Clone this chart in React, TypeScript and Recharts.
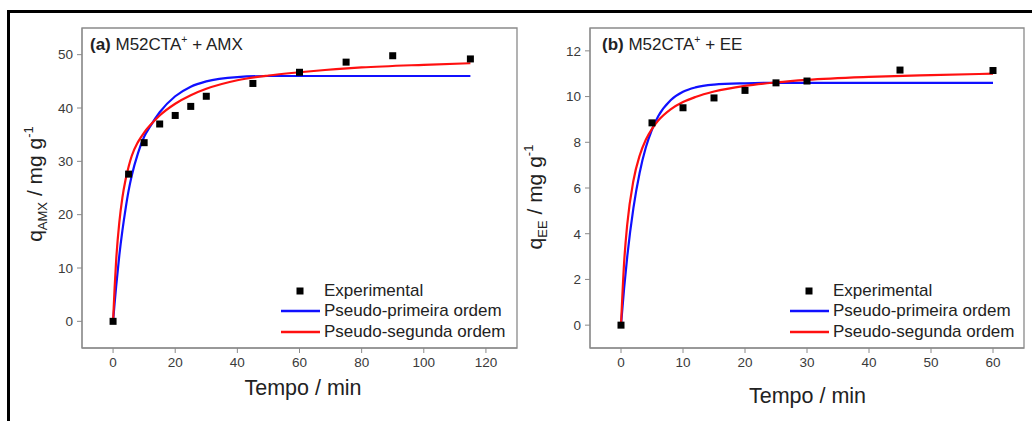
import React from "react";
import {
    ComposedChart,
    Scatter,
    Line,
    XAxis,
    YAxis,
    Legend,
    ReferenceArea,
} from "recharts";

// (a) M52CTA+ + AMX
const timesA = [0, 5, 10, 15, 20, 25, 30, 45, 60, 75, 90, 115];
const expA = [0, 27.6, 33.5, 37.0, 38.6, 40.3, 42.2, 44.6, 46.7, 48.6, 49.8, 49.2];
const fitTimesA = [0, 0.5, 1, 2, 3, 4, 5, 6, 8, 10, 12, 15, 20, 25, 30, 40, 50, 60, 80, 100, 115];
const pfoA = [0, 3.4, 6.6, 12.3, 17.0, 21.0, 24.5, 27.3, 31.5, 34.6, 36.6, 39.2, 42.2, 44.0, 45.0, 45.8, 46.0, 46.0, 46.0, 46.0, 46.0];
const psoA = [0, 6.3, 11.5, 18.5, 23.2, 26.5, 29.0, 31.0, 33.6, 35.4, 36.8, 38.6, 40.8, 42.4, 43.6, 45.2, 46.1, 46.7, 47.6, 48.1, 48.4];
const xTicksA = [0, 20, 40, 60, 80, 100, 120];
const yTicksA = [0, 10, 20, 30, 40, 50];

// (b) M52CTA+ + EE
const timesB = [0, 5, 10, 15, 20, 25, 30, 45, 60];
const expB = [0, 8.85, 9.51, 9.94, 10.27, 10.6, 10.68, 11.16, 11.14];
const fitTimesB = [0, 0.5, 1, 2, 3, 4, 5, 6, 8, 10, 12, 15, 20, 25, 30, 40, 50, 60];
const pfoB = [0, 1.61, 2.98, 5.12, 6.66, 7.77, 8.56, 9.14, 9.84, 10.21, 10.4, 10.52, 10.58, 10.6, 10.6, 10.6, 10.6, 10.6];
const psoB = [0, 2.73, 4.39, 6.32, 7.41, 8.11, 8.59, 8.95, 9.44, 9.76, 9.98, 10.22, 10.47, 10.62, 10.73, 10.86, 10.94, 11.0];
const xTicksB = [0, 10, 20, 30, 40, 50, 60];
const yTicksB = [0, 2, 4, 6, 8, 10, 12];

const pairs = (ts: number[], qs: number[]) => ts.map((t, i) => ({ t, q: qs[i] }));

const FRAME = "#8a8a8a";
const TEXT = "#222";

const Square = (p: any) => (
    <rect x={p.cx - 3.5} y={p.cy - 3.5} width={7} height={7} fill="#000" />
);

const KineticsLegend = ({ payload }: any) => (
    <div style={{ fontSize: 17, color: TEXT }}>
        {(payload || []).map((e: any) => (
            <div
                key={e.value}
                style={{ display: "flex", alignItems: "center", height: 20.5, whiteSpace: "nowrap" }}
            >
                <svg width={43} height={20} style={{ flex: "none" }}>
                    {e.type === "square" ? (
                        <rect x={15.5} y={6.5} width={7} height={7} fill="#000" />
                    ) : (
                        <line x1={0} x2={39} y1={10} y2={10} stroke={e.color} strokeWidth={2.5} />
                    )}
                </svg>
                <span>{e.value}</span>
            </div>
        ))}
    </div>
);

type PanelProps = {
    left: number;
    width: number;
    marginLeft: number;
    marginRight: number;
    tag: string;
    species: string;
    sub: string;
    times: number[];
    exp: number[];
    fitTimes: number[];
    pfo: number[];
    pso: number[];
    xDomain: [number, number];
    yDomain: [number, number];
    xTicks: number[];
    yTicks: number[];
    titleX: number;
    yTitle: [number, number];
    xTitle: [number, number];
    legendLeft: number;
};

const Panel = (p: PanelProps) => (
    <div style={{ position: "absolute", left: p.left, top: 0 }}>
        <ComposedChart
            width={p.width}
            height={421}
            margin={{ top: 28, right: p.marginRight, bottom: 43, left: p.marginLeft }}
        >
            <XAxis
                type="number"
                dataKey="t"
                domain={p.xDomain}
                ticks={p.xTicks}
                allowDataOverflow
                height={30}
                tickSize={5}
                tickMargin={4}
                stroke={FRAME}
                tick={{ fontSize: 13.5, fill: "#3a3a3a" }}
                label={{
                    content: () => (
                        <text x={p.xTitle[0]} y={p.xTitle[1]} textAnchor="middle" fontSize={21.5} fill={TEXT}>
                            Tempo / min
                        </text>
                    ),
                }}
            />
            <YAxis
                type="number"
                dataKey="q"
                domain={p.yDomain}
                ticks={p.yTicks}
                allowDataOverflow
                width={40}
                tickSize={5}
                tickMargin={4}
                stroke={FRAME}
                tick={{ fontSize: 13.5, fill: "#3a3a3a" }}
                label={{
                    content: () => (
                        <text
                            x={p.yTitle[0]}
                            y={p.yTitle[1]}
                            transform={`rotate(-90 ${p.yTitle[0]} ${p.yTitle[1]})`}
                            textAnchor="middle"
                            fontSize={21}
                            fill={TEXT}
                        >
                            q<tspan fontSize={13} dy={5}>{p.sub}</tspan>
                            <tspan dy={-5}> / mg g</tspan>
                            <tspan fontSize={13} dy={-9}>-1</tspan>
                        </text>
                    ),
                }}
            />
            <ReferenceArea
                x1={p.xDomain[0]}
                x2={p.xDomain[1]}
                y1={p.yDomain[0]}
                y2={p.yDomain[1]}
                fill="none"
                stroke={FRAME}
                strokeWidth={1.3}
                label={{
                    content: () => (
                        <text x={p.titleX} y={50} fontSize={17} fill={TEXT}>
                            <tspan fontWeight="bold">{p.tag}</tspan> M52CTA
                            <tspan fontSize={10.5} dy={-7}>+</tspan>
                            <tspan dy={7}> + {p.species}</tspan>
                        </text>
                    ),
                }}
            />
            <Legend
                layout="horizontal"
                verticalAlign="middle"
                content={<KineticsLegend />}
                wrapperStyle={{ left: p.legendLeft, top: 280.5, width: 240, height: 62 }}
            />
            <Scatter
                name="Experimental"
                data={pairs(p.times, p.exp)}
                fill="#000"
                shape={Square}
                legendType="square"
                isAnimationActive={false}
            />
            <Line
                name="Pseudo-primeira ordem"
                data={pairs(p.fitTimes, p.pfo)}
                dataKey="q"
                type="monotone"
                stroke="#1010ff"
                strokeWidth={2.2}
                dot={false}
                legendType="line"
                isAnimationActive={false}
            />
            <Line
                name="Pseudo-segunda ordem"
                data={pairs(p.fitTimes, p.pso)}
                dataKey="q"
                type="monotone"
                stroke="#ff1010"
                strokeWidth={2.2}
                dot={false}
                legendType="line"
                isAnimationActive={false}
            />
        </ComposedChart>
    </div>
);

export default function App() {
    return (
        <div
            style={{
                position: "absolute",
                left: 0,
                top: 0,
                width: 1032,
                height: 421,
                overflow: "hidden",
                background: "#fff",
                fontFamily: "Arial, 'Liberation Sans', sans-serif",
            }}
        >
            <div
                style={{
                    position: "absolute",
                    left: 7,
                    top: 10,
                    width: 1100,
                    height: 500,
                    borderLeft: "3px solid #000",
                    borderTop: "3px solid #000",
                }}
            />
            <Panel
                left={0}
                width={530}
                marginLeft={42}
                marginRight={13}
                tag="(a)"
                species="AMX"
                sub="AMX"
                times={timesA}
                exp={expA}
                fitTimes={fitTimesA}
                pfo={pfoA}
                pso={psoA}
                xDomain={[-10, 130]}
                yDomain={[-5, 55]}
                xTicks={xTicksA}
                yTicks={yTicksA}
                titleX={90}
                yTitle={[42, 184]}
                xTitle={[303, 395]}
                legendLeft={281}
            />
            <Panel
                left={516}
                width={516}
                marginLeft={34}
                marginRight={8}
                tag="(b)"
                species="EE"
                sub="EE"
                times={timesB}
                exp={expB}
                fitTimes={fitTimesB}
                pfo={pfoB}
                pso={psoB}
                xDomain={[-5, 65]}
                yDomain={[-1, 13]}
                xTicks={xTicksB}
                yTicks={yTicksB}
                titleX={86}
                yTitle={[26, 197]}
                xTitle={[291.5, 403]}
                legendLeft={274}
            />
        </div>
    );
}
